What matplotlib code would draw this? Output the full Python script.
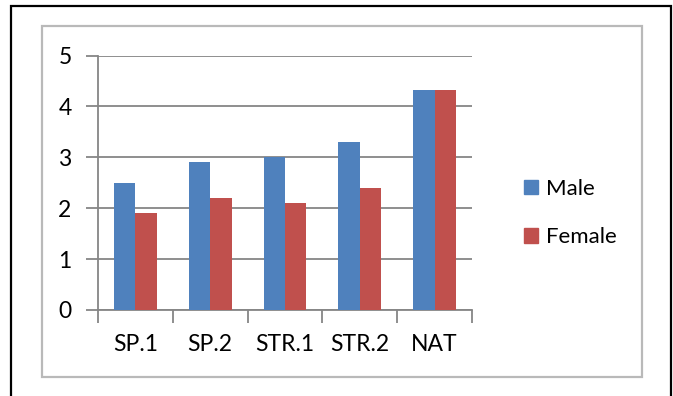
import numpy as np
import matplotlib.pyplot as plt
from matplotlib.patches import Rectangle, Patch

# data
categories = ['SP.1', 'SP.2', 'STR.1', 'STR.2', 'NAT']
male = [2.5, 2.9, 3.0, 3.3, 4.33]
female = [1.9, 2.2, 2.1, 2.4, 4.33]

plt.rcParams['font.family'] = ['Lato', 'DejaVu Sans']

fig = plt.figure(figsize=(6.73, 3.96), dpi=100)

# outer black frame and inner gray chart-area frame
fig.patches.append(Rectangle((10.5 / 673, -0.05), 660 / 673, 1.05 - 5.5 / 396,
                             transform=fig.transFigure, fill=False,
                             edgecolor='black', linewidth=1.6))
fig.patches.append(Rectangle((42 / 673, 1 - 377 / 396), 600 / 673, 351 / 396,
                             transform=fig.transFigure, fill=False,
                             edgecolor='#B9B9B9', linewidth=1.6))

ax = fig.add_axes([98 / 673, 1 - 310 / 396, 374 / 673, 254.5 / 396])

x = np.arange(len(categories))
w = 1 / 3.5
ax.bar(x - w / 2, male, w, color='#4F81BD', label='Male', zorder=3)
ax.bar(x + w / 2, female, w, color='#C0504D', label='Female', zorder=3)

ax.set_xlim(-0.5, len(categories) - 0.5)
ax.set_ylim(0, 5)
ax.set_yticks(range(6))
ax.set_xticks(x)
ax.set_xticklabels(categories)
ax.set_xticks(np.arange(-0.5, len(categories)), minor=True)

ax.grid(axis='y', color='#868686', linewidth=1.3, zorder=0)
for s in ['top', 'right']:
    ax.spines[s].set_visible(False)
for s in ['left', 'bottom']:
    ax.spines[s].set_color('#868686')
    ax.spines[s].set_linewidth(1.3)

ax.tick_params(axis='y', length=9, width=1.3, color='#868686', labelsize=16.5, pad=10)
ax.tick_params(axis='x', which='major', length=0, labelsize=16.5, pad=17)
ax.tick_params(axis='x', which='minor', length=9, width=1.3, color='#868686')

handles = [Patch(color='#4F81BD'), Patch(color='#C0504D')]
fig.legend(handles, ['Male', 'Female'], loc='center left',
           bbox_to_anchor=(504 / 673, 1 - 213 / 396), frameon=False,
           fontsize=16, handlelength=0.62, handleheight=0.62,
           handletextpad=0.35, labelspacing=1.3)

fig.savefig('out.png', dpi=100)
